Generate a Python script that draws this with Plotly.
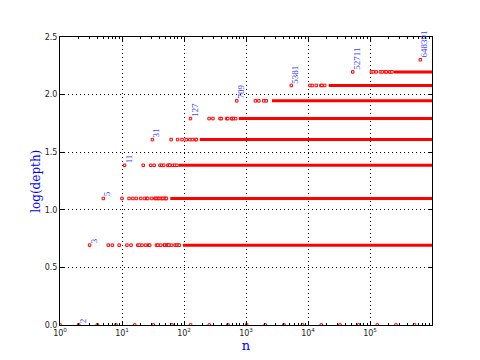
import numpy as np
import plotly.graph_objects as go

# ---- data ----
# depth levels (y = log(depth))
depths = [1, 2, 3, 4, 5, 6, 7, 8, 9, 10]

# individually visible points at each depth
depth1_n = [1, 2, 4, 8, 16, 32, 64, 128, 256, 512, 1024, 2048, 4096, 8192,
            16384, 32768, 65536, 131072, 262144, 524288]
depth2_n = [3, 6, 7, 9, 12, 14, 18, 19, 21, 24, 27, 28, 36, 38, 42, 48, 49,
            53, 54, 56, 57, 63, 72, 76, 81, 84]
depth3_n = [5, 10, 13, 15, 17, 20, 23, 25, 26, 30, 34, 35, 37, 39, 40, 43,
            45, 46, 50, 51, 52]
depth4_n = [11, 22, 29, 33, 41, 44, 47, 55, 58, 59, 66, 71, 77]
depth5_n = [31, 62, 79, 93, 109, 124, 137, 155, 158]
depth6_n = [127, 254, 293, 381, 401, 487, 508, 586, 599, 635, 683]
depth7_n = [709, 1418, 1613, 1931, 2127]
depth8_n = [5381, 10762, 11800, 13620, 16143, 16700, 18630]
depth9_n = [52711, 105422, 113235, 125830, 146977, 158133, 177165, 183389,
            207272, 210844, 226470]
depth10_n = [648391]

# where each level becomes a continuous band of points (None = no band)
band_start = [None, 96, 60, 82, 179, 762, 2621, 21524, 243103, None]
band_end = 999999

# first n reaching each depth (labelled in the chart)
first_n = [2, 3, 5, 11, 31, 127, 709, 5381, 52711, 648391]

# axis ticks
x_tickvals = [1, 10, 100, 1000, 10000, 100000]
x_ticktext = ["10<sup>0</sup>", "10<sup>1</sup>", "10<sup>2</sup>",
              "10<sup>3</sup>", "10<sup>4</sup>", "10<sup>5</sup>"]
x_minor = [k * 10 ** d for d in range(0, 6) for k in range(2, 10)]

level_points = [depth1_n, depth2_n, depth3_n, depth4_n, depth5_n, depth6_n,
                depth7_n, depth8_n, depth9_n, depth10_n]

fig = go.Figure()

RED = "#ff0000"
for d, pts in zip(depths, level_points):
    fig.add_trace(go.Scatter(
        x=pts, y=[np.log(d)] * len(pts), mode="markers",
        marker=dict(symbol="square", size=2.5, color="white",
                    line=dict(color=RED, width=1)),
        showlegend=False, hoverinfo="skip"))

for d, s in zip(depths, band_start):
    if s is None:
        continue
    fig.add_trace(go.Scatter(
        x=[s, band_end], y=[np.log(d), np.log(d)], mode="lines",
        line=dict(color=RED, width=3), showlegend=False, hoverinfo="skip"))

annotations = []
for d, n in zip(depths, first_n):
    annotations.append(dict(
        x=np.log10(n), y=np.log(d), xref="x", yref="y", text=str(n),
        textangle=-90, xanchor="left", yanchor="bottom", showarrow=False,
        xshift=-2, yshift=1, borderpad=0,
        font=dict(family="Liberation Serif", size=9, color="#4040ff")))

# y axis title placed as in the reference
annotations.append(dict(
    x=-0.065, y=0.5, xref="paper", yref="paper", text="log(depth)",
    textangle=-90, xanchor="center", yanchor="middle", showarrow=False,
    font=dict(family="DejaVu Serif", size=12, color="blue")))

axis_common = dict(
    ticks="inside", ticklen=4, tickcolor="black", tickwidth=1,
    showline=True, linecolor="black", linewidth=1, mirror="allticks",
    showgrid=True, gridcolor="black", gridwidth=1, griddash="1px,3px",
    zeroline=False, automargin=False,
    tickfont=dict(family="DejaVu Sans", size=8, color="#222"),
)

fig.update_layout(
    width=480, height=360,
    margin=dict(l=60, r=48, t=37, b=35),
    paper_bgcolor="white", plot_bgcolor="white",
    annotations=annotations,
    xaxis=dict(
        type="log", range=[0, np.log10(band_end)],
        tickmode="array", tickvals=x_tickvals, ticktext=x_ticktext,
        minor=dict(tickmode="array", tickvals=x_minor, ticks="inside",
                   ticklen=2, tickcolor="black", showgrid=False),
        title=dict(text="n", standoff=3,
                   font=dict(family="DejaVu Serif", size=13, color="blue")),
        **axis_common),
    yaxis=dict(
        range=[0, 2.5], dtick=0.5, tick0=0, tickformat=".1f",
        **axis_common),
)

fig.write_html("out.html")
